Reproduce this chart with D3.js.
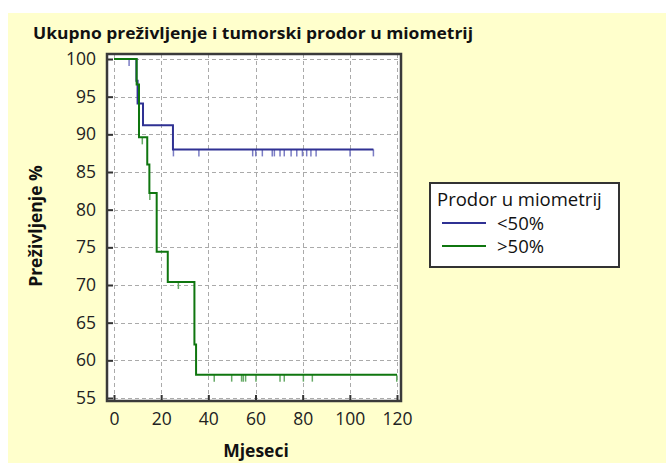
<!DOCTYPE html>
<html><head><meta charset="utf-8">
<script src="https://cdn.jsdelivr.net/npm/d3@7"></script>
<style>body{margin:0;background:#fff;}svg{display:block;}</style>
</head><body>
<script>
// ---- data ----
const title = "Ukupno preživljenje i tumorski prodor u miometrij";
const xLabel = "Mjeseci";
const yLabel = "Preživljenje %";
const legendTitle = "Prodor u miometrij";
const groups = ["<50%", ">50%"];
const xTicks = [0, 20, 40, 60, 80, 100, 120];
const yTicks = [55, 60, 65, 70, 75, 80, 85, 90, 95, 100];

// step curve: event times and survival after the event
const lowTimes = [0, 9.5, 10.0, 12.3, 25.0];
const lowSurv  = [100, 97.1, 94.1, 91.2, 88.0];
const lowEnd = 110;
const lowCensor = [6.4, 25.2, 36, 58.8, 60.1, 62.9, 67.1, 68, 70.4, 72.2, 75.1, 77.5, 79.9, 81.7, 83.5, 85.7, 100.1, 110];

const highTimes = [0, 9.6, 10.6, 14.1, 15.0, 18.1, 22.8, 34.1, 34.8];
const highSurv  = [100, 96.6, 89.6, 86.0, 82.2, 74.4, 70.4, 62.1, 58.1];
const highEnd = 120;
const highCensor = [12.0, 15.2, 27.3, 42.5, 49.9, 54.1, 54.8, 55.8, 60.2, 70.4, 72.2, 80.3, 84.1, 119.9];

// ---- drawing ----
const W = 666, H = 467;
const svg = d3.select("body").append("svg").attr("width", W).attr("height", H);
svg.append("rect").attr("x", 8).attr("y", 13).attr("width", W - 8).attr("height", H - 17).attr("fill", "#FFFFCC");

const font = "'Open Sans', 'Liberation Sans', sans-serif";
const x = d3.scaleLinear().domain([0, 120]).range([114, 397]);
const y = d3.scaleLinear().domain([55, 100]).range([398, 59]);

const frame = {l: 107, t: 54, r: 401, b: 401};
svg.append("rect").attr("x", frame.l).attr("y", frame.t)
  .attr("width", frame.r - frame.l).attr("height", frame.b - frame.t).attr("fill", "#fff");

// grid
const grid = svg.append("g").attr("stroke", "#aaa").attr("stroke-width", 1).attr("stroke-dasharray", "4,3");
yTicks.forEach(v => grid.append("line").attr("x1", frame.l).attr("x2", frame.r).attr("y1", Math.round(y(v)) + 0.5).attr("y2", Math.round(y(v)) + 0.5));
xTicks.forEach(v => grid.append("line").attr("y1", frame.t).attr("y2", frame.b).attr("x1", Math.round(x(v)) + 0.5).attr("x2", Math.round(x(v)) + 0.5));

// axes (inward ticks)
const yAxis = d3.axisLeft(y).tickValues(yTicks).tickSize(-6).tickPadding(11);
const gy = svg.append("g").attr("transform", `translate(${frame.l},0)`).call(yAxis);
gy.select(".domain").remove();
gy.selectAll(".tick line").attr("stroke", "#333").attr("stroke-width", 2);
gy.selectAll("text").attr("font-family", font).attr("font-size", 17.5).attr("fill", "#222");

const xAxis = d3.axisBottom(x).tickValues(xTicks).tickSize(-6).tickPadding(12);
const gx = svg.append("g").attr("transform", `translate(0,${frame.b})`).call(xAxis);
gx.select(".domain").remove();
gx.selectAll(".tick line").attr("stroke", "#333").attr("stroke-width", 2);
gx.selectAll("text").attr("font-family", font).attr("font-size", 17.5).attr("fill", "#222");

// frame border
svg.append("rect").attr("x", frame.l).attr("y", frame.t)
  .attr("width", frame.r - frame.l).attr("height", frame.b - frame.t)
  .attr("fill", "none").attr("stroke", "#3a3a3a").attr("stroke-width", 2.5);

function stepPts(times, surv, end) {
  const pts = [];
  times.forEach((t, i) => {
    if (i > 0) pts.push([t, surv[i - 1]]);
    pts.push([t, surv[i]]);
  });
  pts.push([end, surv[surv.length - 1]]);
  return pts;
}
function survAt(times, surv, t) {
  let s = surv[0];
  times.forEach((tt, i) => { if (tt <= t) s = surv[i]; });
  return s;
}
const line = d3.line().x(d => x(d[0])).y(d => y(d[1]));

const series = [
  {times: lowTimes, surv: lowSurv, end: lowEnd, cens: lowCensor, color: "#2f3193", light: "#7b7dc4"},
  {times: highTimes, surv: highSurv, end: highEnd, cens: highCensor, color: "#0f760f", light: "#66aa66"}
];
series.forEach(s => {
  svg.append("g").selectAll("line").data(s.cens).join("line")
    .attr("x1", d => x(d)).attr("x2", d => x(d))
    .attr("y1", d => y(survAt(s.times, s.surv, d)))
    .attr("y2", d => y(survAt(s.times, s.surv, d)) + 7)
    .attr("stroke", s.light).attr("stroke-width", 1.5);
  svg.append("path").attr("d", line(stepPts(s.times, s.surv, s.end)))
    .attr("fill", "none").attr("stroke", s.color).attr("stroke-width", 2);
});

// title and axis labels
svg.append("text").attr("x", 33).attr("y", 39).text(title)
  .attr("font-family", font).attr("font-weight", "bold").attr("font-size", 15.5).attr("fill", "#111")
  .attr("textLength", 440).attr("lengthAdjust", "spacingAndGlyphs");
svg.append("text").attr("x", 256).attr("y", 457).attr("text-anchor", "middle").text(xLabel)
  .attr("font-family", font).attr("font-weight", "bold").attr("font-size", 17.5).attr("fill", "#111");
svg.append("text").attr("transform", "translate(42,226) rotate(-90)").attr("text-anchor", "middle").text(yLabel)
  .attr("font-family", font).attr("font-weight", "bold").attr("font-size", 17.5).attr("fill", "#111");

// legend
const lg = svg.append("g");
lg.append("rect").attr("x", 430).attr("y", 183).attr("width", 189).attr("height", 84)
  .attr("fill", "#fff").attr("stroke", "#333").attr("stroke-width", 2);
lg.append("text").attr("x", 437).attr("y", 206).text(legendTitle)
  .attr("font-family", font).attr("font-size", 18.5).attr("fill", "#111");
groups.forEach((g, i) => {
  const yy = 223 + i * 23;
  lg.append("line").attr("x1", 442).attr("x2", 486).attr("y1", yy).attr("y2", yy)
    .attr("stroke", series[i].color).attr("stroke-width", 2);
  lg.append("text").attr("x", 497).attr("y", yy + 7).text(g)
    .attr("font-family", font).attr("font-size", 18.5).attr("fill", "#111");
});
</script>
</body></html>
